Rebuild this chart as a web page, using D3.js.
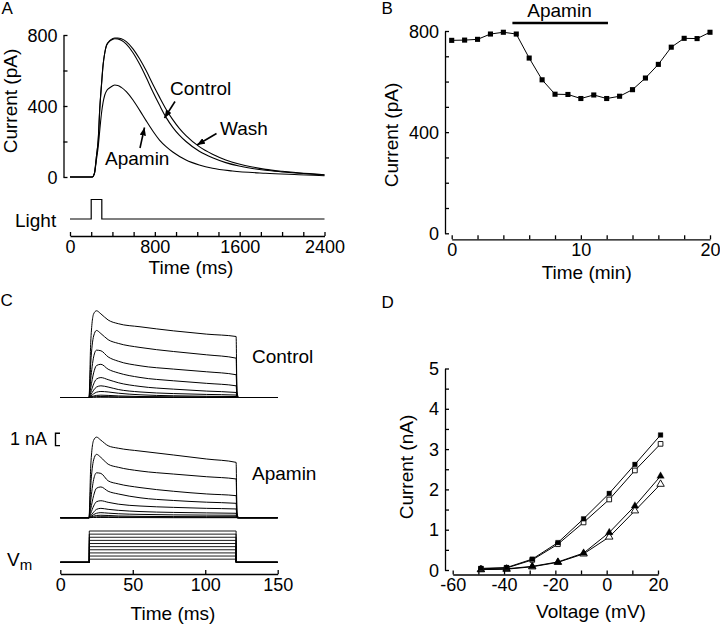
<!DOCTYPE html>
<html><head><meta charset="utf-8">
<script src="https://cdn.jsdelivr.net/npm/d3@7"></script>
<style>
body{margin:0;background:#fff}
svg{display:block}
</style>
</head><body>
<svg id="fig" width="720" height="626"></svg>
<script>
// ---------------- DATA ----------------
// Panel A: light-evoked currents (time ms, current pA)
const aControl = [[0,0],[210,0],[230,20],[250,120],[266,208],[281,387],[297,520],[312,631],[328,700],[344,740],[375,765],[400,775],[422,779],[450,778],[484,770],[531,748],[594,700],[656,636],[719,560],[781,480],[844,405],[906,336],[969,280],[1031,236],[1094,200],[1219,145],[1344,108],[1469,81],[1594,62],[1719,48],[1844,38],[2000,29],[2156,21],[2400,11]];
const aWash = [[0,0],[210,0],[230,20],[250,120],[266,208],[281,387],[297,520],[312,631],[328,700],[344,742],[375,768],[400,779],[422,783],[450,783],[484,779],[531,763],[594,722],[656,666],[719,598],[781,523],[844,450],[906,382],[969,323],[1031,274],[1094,233],[1219,171],[1344,128],[1469,96],[1594,73],[1719,56],[1844,43],[2000,32],[2156,23],[2400,13]];
const aApamin = [[0,0],[210,0],[230,18],[250,100],[266,171],[281,265],[297,359],[312,420],[328,462],[350,490],[375,503],[400,513],[422,518],[450,516],[484,505],[531,481],[594,434],[656,377],[719,316],[781,259],[844,208],[906,171],[969,141],[1094,96],[1219,68],[1344,49],[1531,34],[1844,21],[2156,13],[2400,7]];
const lightTrace = [[0,0],[200,0],[200,1],[300,1],[300,0],[2400,0]];
const aYTicks = [0,200,400,600,800];
const aYLabels = [0,400,800];
const aXTicks = d3.range(0,2401,200);
const aXLabels = [0,800,1600,2400];

// Panel B: time course (min, pA)
const bTime = d3.range(0,21);
const bCurrent = [763,764,767,788,795,788,693,607,550,549,533,547,533,542,568,614,668,736,771,770,795];
const bApaminBar = [4.7,12.1];
const bYTicks = [0,100,200,300,400,500,600,700,800];
const bYLabels = [0,400,800];
const bXTicks = d3.range(0,21,2);
const bXLabels = [0,10,20];

// Panel C: voltage-step currents (time ms, current nA)
const cTime = [0,19.8,21,23,25,28,33,40,55,78,101,121.3,121.9,123,150];
const cControl = [
  [0,0,4.5,6.8,7.05,6.8,6.3,6.0,5.75,5.42,5.15,4.96,0.5,0,0],
  [0,0,2.8,5.0,5.45,5.2,4.7,4.4,4.07,3.74,3.47,3.2,0.3,0,0],
  [0,0,1.5,3.3,3.85,3.8,3.3,2.95,2.58,2.31,2.09,1.85,0.2,0,0],
  [0,0,0.8,2.0,2.6,2.7,2.3,2.0,1.63,1.36,1.15,0.95,0.1,0,0],
  [0,0,0.4,1.1,1.5,1.62,1.45,1.2,0.9,0.68,0.52,0.41,0.05,0,0],
  [0,0,0.2,0.6,0.85,0.95,0.85,0.65,0.45,0.32,0.25,0.2,0,0,0],
  [0,0,0.1,0.3,0.43,0.49,0.45,0.35,0.22,0.14,0.1,0.08,0,0,0],
  [0,0,0.05,0.12,0.17,0.19,0.17,0.13,0.08,0.05,0.04,0.03,0,0,0],
  [0,0,0.02,0.05,0.07,0.08,0.07,0.05,0.03,0.02,0.02,0.01,0,0,0],
  [0,0,0.01,0.02,0.02,0.02,0.02,0.01,0.01,0,0,0,0,0,0]
];
const cApamin = [
  [0,0,4.2,6.3,6.55,6.3,5.85,5.65,5.42,5.1,4.77,4.5,0.4,0,0],
  [0,0,2.6,4.7,5.15,4.9,4.35,4.1,3.8,3.55,3.33,3.15,0.3,0,0],
  [0,0,1.4,3.1,3.65,3.6,3.0,2.75,2.45,2.15,1.93,1.79,0.2,0,0],
  [0,0,0.7,1.8,2.4,2.5,2.15,1.93,1.62,1.4,1.26,1.17,0.1,0,0],
  [0,0,0.35,0.95,1.3,1.38,1.25,1.1,0.95,0.84,0.76,0.71,0.05,0,0],
  [0,0,0.15,0.45,0.68,0.76,0.68,0.6,0.5,0.43,0.39,0.36,0,0,0],
  [0,0,0.08,0.25,0.36,0.41,0.37,0.32,0.27,0.23,0.21,0.2,0,0,0],
  [0,0,0.04,0.12,0.18,0.2,0.18,0.14,0.11,0.09,0.08,0.08,0,0,0],
  [0,0,0.02,0.05,0.07,0.08,0.07,0.06,0.05,0.04,0.03,0.03,0,0,0],
  [0,0,0.01,0.02,0.02,0.02,0.02,0.01,0.01,0,0,0,0,0,0]
];
const vmHold = -80;
const vmSteps = [-70,-60,-50,-40,-30,-20,-10,0,10,20];
const vmTime = [0,20,20,121.3,121.3,150];
const cXTicks = [0,50,100,150];

// Panel D: I-V relation (mV, nA)
const dVoltage = [-49,-39,-29,-19,-9,1,11,21];
const dCtrlFilled = [0.04,0.06,0.27,0.68,1.27,1.90,2.62,3.35];
const dCtrlOpen = [0.03,0.05,0.25,0.64,1.18,1.75,2.47,3.13];
const dApaFilled = [0.01,0.03,0.09,0.20,0.42,0.93,1.59,2.33];
const dApaOpen = [0.01,0.02,0.08,0.19,0.40,0.82,1.47,2.13];
const dYTicks = d3.range(0,5.01,0.5);
const dYLabels = [0,1,2,3,4,5];
const dXTicks = d3.range(-60,21,10);
const dXLabels = [-60,-40,-20,0,20];

// ---------------- DRAWING ----------------
const FONT = '"Liberation Sans", Arial, Helvetica, sans-serif';
const svg = d3.select('#fig');
svg.append('rect').attr('width',720).attr('height',626).attr('fill','#fff');
const defs = svg.append('defs');
defs.append('marker').attr('id','arr').attr('viewBox','0 0 10 8')
  .attr('refX',10).attr('refY',4).attr('markerWidth',8).attr('markerHeight',6.5)
  .attr('markerUnits','userSpaceOnUse').attr('orient','auto')
  .append('path').attr('d','M0,0 L10,4 L0,8 Z').attr('fill','#000');

function txt(x,y,s,size,anchor){
  return svg.append('text').attr('x',x).attr('y',y).text(s)
    .attr('font-family',FONT).attr('font-size',size).attr('fill','#000')
    .attr('text-anchor',anchor||'start');
}
function styleAxis(g){
  g.attr('font-family',null).attr('font-size',null);
  g.select('.domain').attr('stroke','#000').attr('stroke-width',1.3);
  g.selectAll('.tick line').attr('stroke','#000').attr('stroke-width',1.3);
  g.selectAll('.tick text').attr('font-family',FONT).attr('font-size',18).attr('fill','#000');
}
function yAxis(scale,x,ticks,labels){
  const g = svg.append('g').attr('transform',`translate(${x},0)`)
    .call(d3.axisLeft(scale).tickValues(ticks).tickSizeInner(-4).tickSizeOuter(0).tickPadding(6)
      .tickFormat(d=>labels.some(l=>Math.abs(l-d)<1e-9)?String(d):''));
  styleAxis(g);
  g.selectAll('.tick text').attr('dy','0.34em');
  return g;
}
function xAxis(scale,y,ticks,labels){
  const g = svg.append('g').attr('transform',`translate(0,${y})`)
    .call(d3.axisBottom(scale).tickValues(ticks).tickSizeInner(-4).tickSizeOuter(0).tickPadding(4)
      .tickFormat(d=>labels.some(l=>Math.abs(l-d)<1e-9)?String(d):''));
  styleAxis(g);
  return g;
}
function yLabel(x,y,s){
  svg.append('text').attr('transform',`translate(${x},${y}) rotate(-90)`)
    .attr('text-anchor','middle').attr('font-family',FONT).attr('font-size',19).attr('fill','#000').text(s);
}
function arrow(x1,y1,x2,y2){
  svg.append('line').attr('x1',x1).attr('y1',y1).attr('x2',x2).attr('y2',y2)
    .attr('stroke','#000').attr('stroke-width',1.6).attr('marker-end','url(#arr)');
}

// ----- Panel A -----
const xA = d3.scaleLinear().domain([0,2400]).range([70,324.5]);
const yA = d3.scaleLinear().domain([0,800]).range([177,35]);
const lineA = d3.line().x(d=>xA(d[0])).y(d=>yA(d[1])).curve(d3.curveMonotoneX);
[aWash,aControl,aApamin].forEach(s=>{
  svg.append('path').attr('d',lineA(s)).attr('fill','none').attr('stroke','#000').attr('stroke-width',1.1);
});
yAxis(yA,63.5,aYTicks,aYLabels);
const yLight = d3.scaleLinear().domain([0,1]).range([219,199.5]);
svg.append('path').attr('d',d3.line().x(d=>xA(d[0])).y(d=>yLight(d[1]))(lightTrace))
  .attr('fill','none').attr('stroke','#000').attr('stroke-width',1.2);
xAxis(xA,236,aXTicks,aXLabels);
txt(1.5,14,'A',17);
yLabel(16.5,101,'Current (pA)');
txt(191,274,'Time (ms)',19,'middle');
txt(15,227,'Light',19);
txt(170,95,'Control',19);
txt(220,135,'Wash',19);
txt(105,165,'Apamin',19);
arrow(175,101.5,164.5,118);
arrow(216.5,133.5,197,145);
arrow(140,148,144.5,127.5);

// ----- Panel B -----
const xB = d3.scaleLinear().domain([0,20]).range([451.7,710]);
const yB = d3.scaleLinear().domain([0,800]).range([233.3,31]);
const bData = bTime.map((t,i)=>[t,bCurrent[i]]);
svg.append('path').attr('d',d3.line().x(d=>xB(d[0])).y(d=>yB(d[1]))(bData))
  .attr('fill','none').attr('stroke','#000').attr('stroke-width',1);
svg.append('g').selectAll('path').data(bData).join('path')
  .attr('transform',d=>`translate(${xB(d[0])},${yB(d[1])})`)
  .attr('d',d3.symbol(d3.symbolSquare,26)).attr('fill','#000');
yAxis(yB,445,bYTicks,bYLabels);
xAxis(xB,239.3,bXTicks,bXLabels);
svg.append('line').attr('x1',xB(bApaminBar[0])).attr('x2',xB(bApaminBar[1]))
  .attr('y1',23).attr('y2',23).attr('stroke','#000').attr('stroke-width',2.4);
txt(559.5,16.5,'Apamin',19,'middle');
txt(381.5,14,'B',17);
yLabel(398,135,'Current (pA)');
txt(586.7,279,'Time (min)',19,'middle');

// ----- Panel C -----
const xC = d3.scaleLinear().domain([0,150]).range([60.3,277.7]);
const nAperPx = 12.3;
const yCtrl = d3.scaleLinear().domain([0,1]).range([397.5,397.5-nAperPx]);
const yApa = d3.scaleLinear().domain([0,1]).range([517.7,517.7-nAperPx]);
const yVm = d3.scaleLinear().domain([vmHold,20]).range([562.3,531]);
function traceLine(ys){ return d3.line().x(d=>xC(d[0])).y(d=>ys(d[1])).curve(d3.curveMonotoneX); }
cControl.forEach(tr=>{
  svg.append('path').attr('d',traceLine(yCtrl)(cTime.map((t,i)=>[t,tr[i]])))
    .attr('fill','none').attr('stroke','#000').attr('stroke-width',1);
});
cApamin.forEach(tr=>{
  svg.append('path').attr('d',traceLine(yApa)(cTime.map((t,i)=>[t,tr[i]])))
    .attr('fill','none').attr('stroke','#000').attr('stroke-width',1);
});
vmSteps.forEach(v=>{
  const vals = [vmHold,vmHold,v,v,vmHold,vmHold];
  svg.append('path').attr('d',d3.line().x(d=>xC(d[0])).y(d=>yVm(d[1]))(vmTime.map((t,i)=>[t,vals[i]])))
    .attr('fill','none').attr('stroke','#000').attr('stroke-width',0.9);
});
xAxis(xC,574,cXTicks,cXTicks);
txt(0.5,306,'C',17);
txt(252,363,'Control',19);
txt(252,480,'Apamin',19);
txt(10,445,'1 nA',18);
svg.append('path').attr('d',`M60,433.3 H55.5 V${433.3+nAperPx} H60`)
  .attr('fill','none').attr('stroke','#000').attr('stroke-width',1.4);
const vm = svg.append('text').attr('x',7).attr('y',566).attr('font-family',FONT).attr('font-size',19).attr('fill','#000');
vm.append('tspan').text('V');
vm.append('tspan').attr('font-size',15).attr('dy',4).text('m');
txt(173,620,'Time (ms)',19,'middle');

// ----- Panel D -----
const xD = d3.scaleLinear().domain([-60,20]).range([452.7,658]);
const yD = d3.scaleLinear().domain([0,5]).range([570,368.5]);
const lineD = d3.line().x(d=>xD(d[0])).y(d=>yD(d[1]));
const dSeries = [
  {v:dApaOpen, sym:d3.symbolTriangle, fill:'#fff'},
  {v:dApaFilled, sym:d3.symbolTriangle, fill:'#000'},
  {v:dCtrlOpen, sym:d3.symbolSquare, fill:'#fff'},
  {v:dCtrlFilled, sym:d3.symbolSquare, fill:'#000'}
];
dSeries.forEach(s=>{
  const pts = dVoltage.map((x,i)=>[x,s.v[i]]);
  svg.append('path').attr('d',lineD(pts)).attr('fill','none').attr('stroke','#000').attr('stroke-width',1);
});
dSeries.forEach(s=>{
  const pts = dVoltage.map((x,i)=>[x,s.v[i]]);
  svg.append('g').selectAll('path').data(pts).join('path')
    .attr('transform',d=>`translate(${xD(d[0])},${yD(d[1])})`)
    .attr('d',d3.symbol(s.sym, s.sym===d3.symbolSquare?22:24))
    .attr('fill',s.fill).attr('stroke','#000').attr('stroke-width',s.fill==='#fff'?0.9:0.3);
});
yAxis(yD,445,dYTicks,dYLabels);
xAxis(xD,574.5,dXTicks,dXLabels);
txt(381.5,308,'D',17);
yLabel(413,467,'Current (nA)');
txt(591,618,'Voltage (mV)',19,'middle');
</script>
</body></html>
